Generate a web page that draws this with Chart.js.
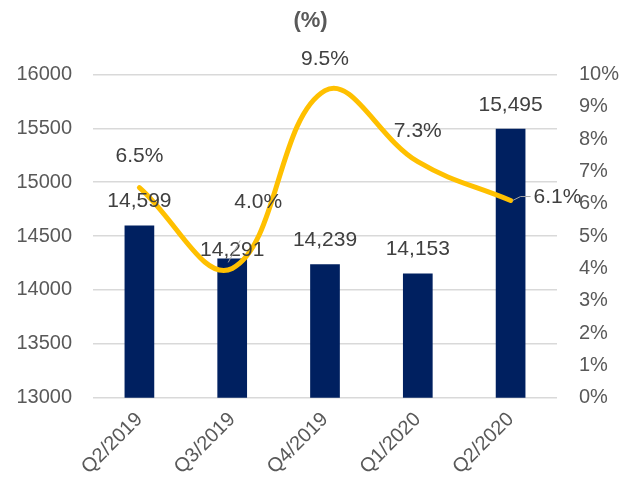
<!DOCTYPE html>
<html lang="en">
<head>
    <meta charset="UTF-8">
    <title>Quarterly chart</title>
    <script src="https://cdn.jsdelivr.net/npm/chart.js"></script>
    <style>
        body { margin: 0; padding: 0; background: #fff; }
        .chart-container { width: 621px; height: 486px; }
    </style>
</head>
<body>
    <div class="chart-container">
        <canvas id="mainChart"></canvas>
    </div>

    <script>
        // Data
        const quarters = ['Q2/2019', 'Q3/2019', 'Q4/2019', 'Q1/2020', 'Q2/2020'];
        const barValues = [14599, 14291, 14239, 14153, 15495];
        const ratePct = [6.5, 4.0, 9.5, 7.3, 6.1];

        const font = '"Liberation Sans", Arial, sans-serif';

        // draws the value labels (and the two leader lines)
        const labelPlugin = {
            id: 'valueLabels',
            afterDatasetsDraw(chart) {
                const ctx = chart.ctx;
                ctx.save();
                ctx.font = '21px ' + font;
                ctx.fillStyle = '#404040';
                ctx.textAlign = 'center';
                ctx.textBaseline = 'middle';

                const barMeta = chart.getDatasetMeta(1);
                barMeta.data.forEach((bar, i) => {
                    const lift = i === 1 ? 8 : 24;
                    ctx.fillText(barValues[i].toLocaleString('en-US'), bar.x, bar.y - lift);
                });

                const lineMeta = chart.getDatasetMeta(0);
                lineMeta.data.forEach((pt, i) => {
                    const txt = ratePct[i].toFixed(1) + '%';
                    if (i === 1) {
                        ctx.strokeStyle = '#a6a6a6';
                        ctx.lineWidth = 1;
                        ctx.beginPath();
                        ctx.moveTo(pt.x - 4, pt.y - 6);
                        ctx.lineTo(pt.x + 8, pt.y - 28);
                        ctx.stroke();
                        ctx.fillText(txt, pt.x + 26, pt.y - 66);
                    } else if (i === 4) {
                        ctx.strokeStyle = '#a6a6a6';
                        ctx.lineWidth = 1;
                        ctx.beginPath();
                        ctx.moveTo(pt.x + 2, pt.y);
                        ctx.lineTo(pt.x + 10, pt.y - 4);
                        ctx.lineTo(pt.x + 20, pt.y - 4);
                        ctx.stroke();
                        ctx.textAlign = 'left';
                        ctx.fillText(txt, pt.x + 23, pt.y - 3);
                        ctx.textAlign = 'center';
                    } else {
                        ctx.fillText(txt, pt.x, pt.y - 31);
                    }
                });
                ctx.restore();
            }
        };

        const ctx = document.getElementById('mainChart').getContext('2d');
        new Chart(ctx, {
            data: {
                labels: quarters,
                datasets: [
                    {
                        type: 'line',
                        data: ratePct,
                        yAxisID: 'yRight',
                        borderColor: '#FFC000',
                        borderWidth: 5,
                        pointRadius: 0,
                        tension: 0.4,
                        borderCapStyle: 'round',
                        order: 0
                    },
                    {
                        type: 'bar',
                        data: barValues,
                        yAxisID: 'yLeft',
                        backgroundColor: '#002060',
                        barPercentage: 0.32,
                        categoryPercentage: 1,
                        order: 1
                    }
                ]
            },
            options: {
                responsive: true,
                maintainAspectRatio: false,
                animation: false,
                layout: { padding: { top: 0, right: 0, left: 0, bottom: 5 } },
                plugins: {
                    legend: { display: false },
                    tooltip: { enabled: false },
                    title: {
                        display: true,
                        text: '(%)',
                        color: '#595959',
                        font: { family: font, size: 22, weight: 'bold' },
                        padding: { top: 8, bottom: 40 }
                    }
                },
                scales: {
                    x: {
                        grid: { display: false },
                        border: { display: false },
                        ticks: {
                            color: '#595959',
                            font: { family: font, size: 20 },
                            minRotation: 45,
                            maxRotation: 45,
                            padding: 2
                        },
                        // rotated labels may overhang into the side axes
                        afterFit(scale) {
                            scale.paddingLeft = 0;
                            scale.paddingRight = 0;
                        }
                    },
                    yLeft: {
                        position: 'left',
                        min: 13000,
                        max: 16000,
                        ticks: {
                            stepSize: 500,
                            color: '#595959',
                            font: { family: font, size: 20 },
                            padding: 21,
                            callback: v => String(v)
                        },
                        grid: { color: '#d9d9d9', lineWidth: 1.5, drawTicks: false },
                        border: { display: false },
                        afterFit(scale) { scale.width = 93; }
                    },
                    yRight: {
                        position: 'right',
                        min: 0,
                        max: 10,
                        ticks: {
                            stepSize: 1,
                            color: '#595959',
                            font: { family: font, size: 20 },
                            padding: 22,
                            callback: v => v + '%'
                        },
                        grid: { display: false, drawTicks: false },
                        border: { display: false },
                        afterFit(scale) { scale.width = 64; }
                    }
                }
            },
            plugins: [labelPlugin]
        });
    </script>
</body>
</html>
